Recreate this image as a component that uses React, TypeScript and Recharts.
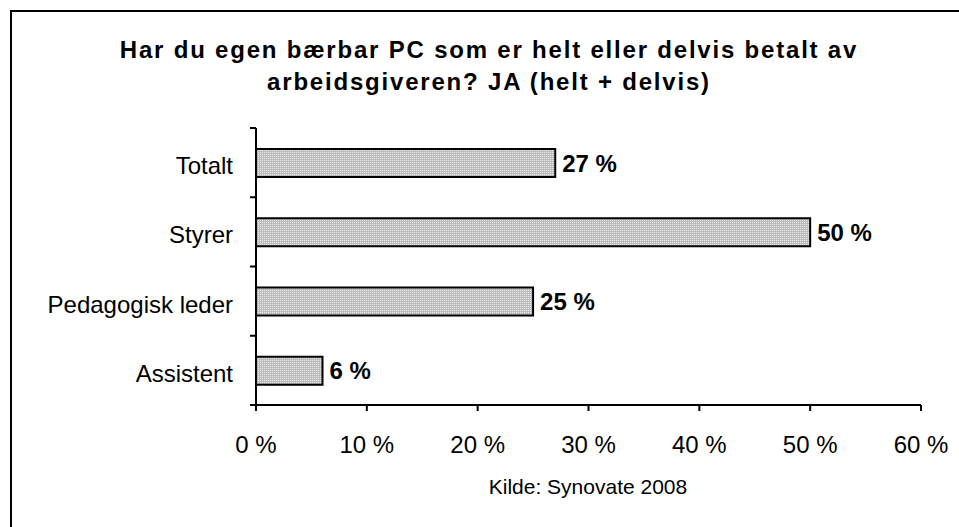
import { BarChart, Bar, XAxis, YAxis, LabelList } from 'recharts';

const categories = ['Totalt', 'Styrer', 'Pedagogisk leder', 'Assistent'];
const values = [27, 50, 25, 6];
const xTicks = [0, 10, 20, 30, 40, 50, 60];

const data = categories.map((name, i) => ({ name, value: values[i] }));

const FONT = 'Arial, "Liberation Sans", Helvetica, sans-serif';

// category tick: label plus a tick mark on the band boundary (Excel style)
const CategoryTick = (props: any) => {
  const { x, y, payload, index, visibleTicksCount } = props;
  const half = payload?.offset ?? 34.6;
  const axisX = x + 23;
  const last = index === (visibleTicksCount ?? categories.length) - 1;
  return (
    <g>
      <line x1={axisX - 6} x2={axisX} y1={y - half} y2={y - half} stroke="#000" strokeWidth={2} />
      {last && <line x1={axisX - 6} x2={axisX} y1={y + half} y2={y + half} stroke="#000" strokeWidth={2} />}
      <text x={x} y={y + 3} dy="0.355em" textAnchor="end" fill="#000" fontSize={24} fontFamily={FONT}>
        {payload.value}
      </text>
    </g>
  );
};

const App = () => {
  return (
    <div style={{ position: 'absolute', left: 0, top: 0, width: 959, height: 527, overflow: 'hidden', background: 'white', fontFamily: FONT }}>
      <div
        style={{
          position: 'absolute',
          left: 10,
          top: 10,
          width: 980,
          height: 540,
          border: '2px solid #000',
          boxSizing: 'border-box',
        }}
      />
      <div
        style={{
          position: 'absolute',
          left: 0,
          top: 34,
          width: 978,
          textAlign: 'center',
          fontWeight: 'bold',
          fontSize: 24,
          letterSpacing: 1.8,
          lineHeight: '32px',
          color: '#000',
        }}
      >
        Har du egen bærbar PC som er helt eller delvis betalt av
        <br />
        arbeidsgiveren? JA (helt + delvis)
      </div>
      <BarChart
        width={959}
        height={527}
        data={data}
        layout="vertical"
        margin={{ top: 128, right: 38, bottom: 62, left: 0 }}
        barSize={28}
        style={{ position: 'absolute', left: 0, top: 0 }}
      >
        <defs>
          <pattern id="dots" width="2" height="2" patternUnits="userSpaceOnUse">
            <rect width="2" height="2" fill="#bcbcbc" />
            <rect width="1" height="1" fill="#ececec" />
          </pattern>
        </defs>
        <XAxis
          type="number"
          domain={[0, 60]}
          ticks={xTicks}
          tickFormatter={(v) => `${v} %`}
          height={60}
          tickSize={6}
          tickMargin={25}
          stroke="#000"
          strokeWidth={2}
          tick={{ fill: '#000', fontSize: 24, fontFamily: FONT }}
        />
        <YAxis
          type="category"
          dataKey="name"
          width={256}
          tickLine={false}
          tickMargin={17}
          stroke="#000"
          strokeWidth={2}
          tick={<CategoryTick />}
        />
        <Bar dataKey="value" fill="url(#dots)" stroke="#000" strokeWidth={2} isAnimationActive={false}>
          <LabelList
            dataKey="value"
            position="right"
            offset={7}
            formatter={(v: any) => `${v} %`}
            style={{ fill: '#000', fontSize: 24, fontWeight: 'bold', fontFamily: FONT }}
          />
        </Bar>
      </BarChart>
      <div
        style={{
          position: 'absolute',
          left: 438,
          top: 475,
          width: 300,
          textAlign: 'center',
          fontSize: 21,
          lineHeight: '24px',
          color: '#000',
        }}
      >
        Kilde: Synovate 2008
      </div>
    </div>
  );
};

export default App;
